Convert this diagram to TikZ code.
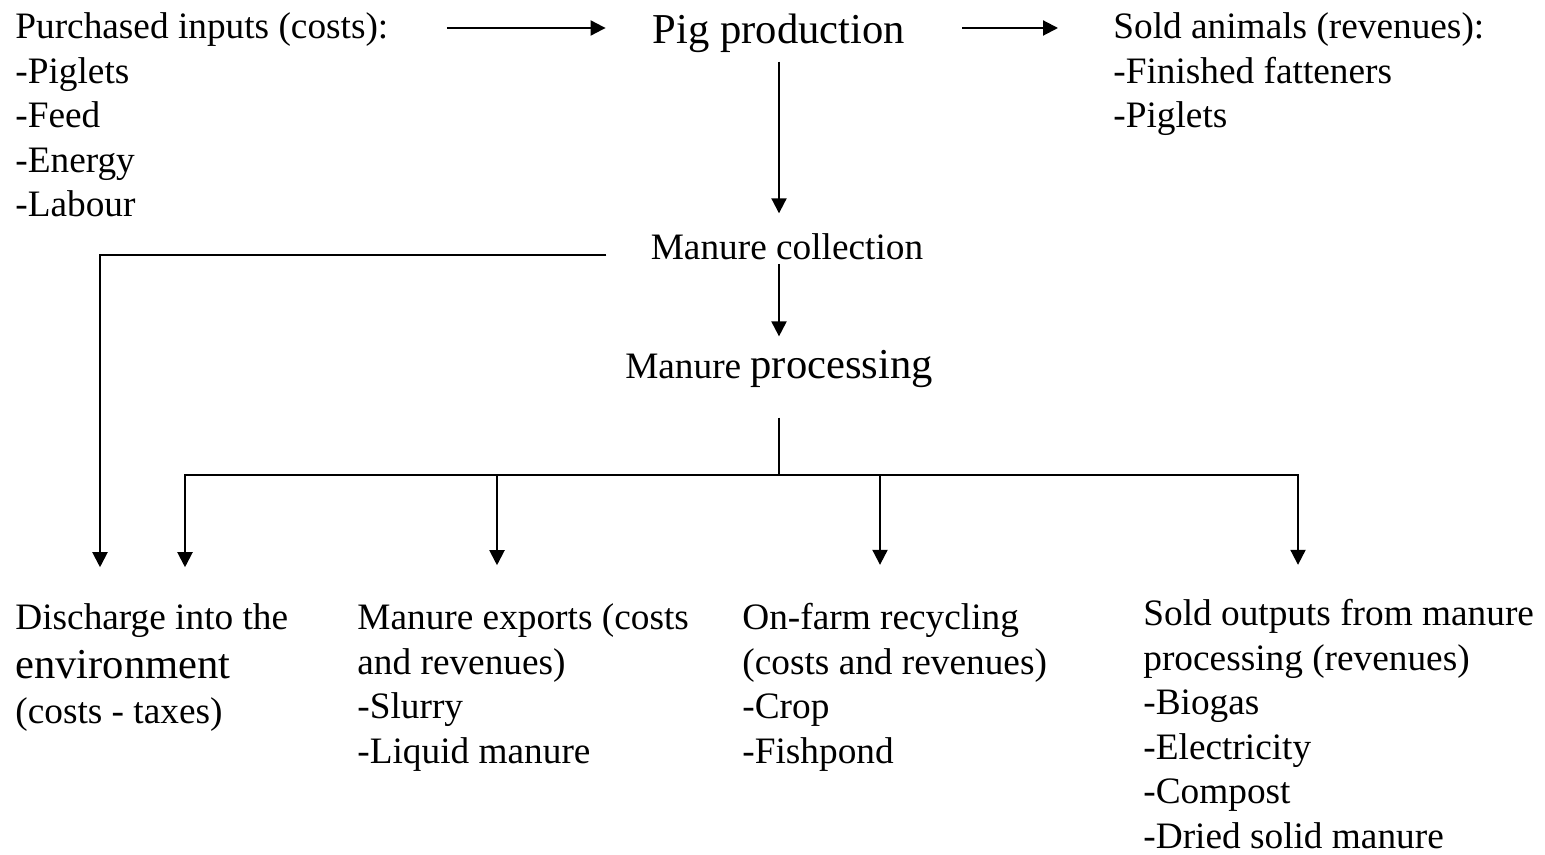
\documentclass[tikz,border=0pt]{standalone}
\usepackage{fontspec}
\setmainfont{Liberation Serif}
\usetikzlibrary{arrows.meta}
\newcommand{\normtext}{\fontsize{18.65pt}{22.25pt}\selectfont}
\newcommand{\bigtext}{\fontsize{21.3pt}{22.25pt}\selectfont}
\tikzset{
  txt/.style={inner sep=0pt, align=left, font=\normtext},
  flow/.style={-{Triangle[length=7.5pt,width=7.5pt]}, line width=1pt},
  link/.style={line width=1pt}
}

\begin{document}
\begin{tikzpicture}[x=0.5pt,y=-0.5pt]
\useasboundingbox (0,0) rectangle (1545,855);
% Top row: inputs, production, sold animals (placed by last baseline)
\node[txt, anchor=base west] (inputs) at (15,217)
{Purchased inputs (costs):\\-Piglets\\-Feed\\-Energy\\-Labour};
\node[txt, anchor=base, font=\bigtext] (prod) at (779,44) {Pig production};
\node[txt, anchor=base west] (animals) at (1113,128)
{Sold animals (revenues):\\-Finished fatteners\\-Piglets};
\coordinate (toprow) at (0,28);

% Middle column
\node[txt, anchor=base] (coll) at (787,260) {Manure collection};
\node[txt, anchor=base] (proc) at (779,378) {Manure {\bigtext processing}};
\coordinate (split) at (779,475);

% Bottom row: where the manure goes
\node[txt, anchor=base west] (discharge) at (15,723)
{Discharge into the\\[2.5pt]{\bigtext environment}\\(costs - taxes)};
\node[txt, anchor=base west] (exports) at (357,763)
{Manure exports (costs\\and revenues)\\-Slurry\\-Liquid manure};
\node[txt, anchor=base west] (recycle) at (742,763)
{On-farm recycling\\(costs and revenues)\\-Crop\\-Fishpond};
\node[txt, anchor=base west] (outputs) at (1143,848)
{Sold outputs from manure\\processing (revenues)\\-Biogas\\-Electricity\\-Compost\\-Dried solid manure};

% Arrows along the top
\draw[flow, shorten <=29pt, shorten >=23.5pt] (inputs.east |- toprow) -- (prod.west |- toprow);
\draw[flow, shorten <=28.5pt, shorten >=27.5pt] (prod.east |- toprow) -- (animals.west |- toprow);

% Down the middle
\draw[flow, shorten <=4pt, shorten >=10.2pt] (prod.south) -- (prod.south |- coll.north);
\draw[flow, shorten <=1.5pt, shorten >=6.5pt] (prod.south |- coll.south) -- (prod.south |- proc.north);
\draw[link, shorten <=15pt] (proc.south) -- (split);

% Untreated manure straight out
\draw[flow, shorten <=22pt, shorten >=17.75pt] ([yshift=2.5pt]coll.base west) -| ([xshift=42.5pt]discharge.north west);

% Branches to the four outlets
\draw[flow, shorten >=17.75pt] (split) -| ([xshift=85pt]discharge.north west);
\draw[flow, shorten >=19pt] (split) -| ([xshift=70pt]exports.north west);
\draw[flow, shorten >=19pt] (split) -| ([xshift=69pt]recycle.north west);
\draw[flow, shorten >=17pt] (split) -| ([xshift=77.5pt]outputs.north west);
\end{tikzpicture}
\end{document}
